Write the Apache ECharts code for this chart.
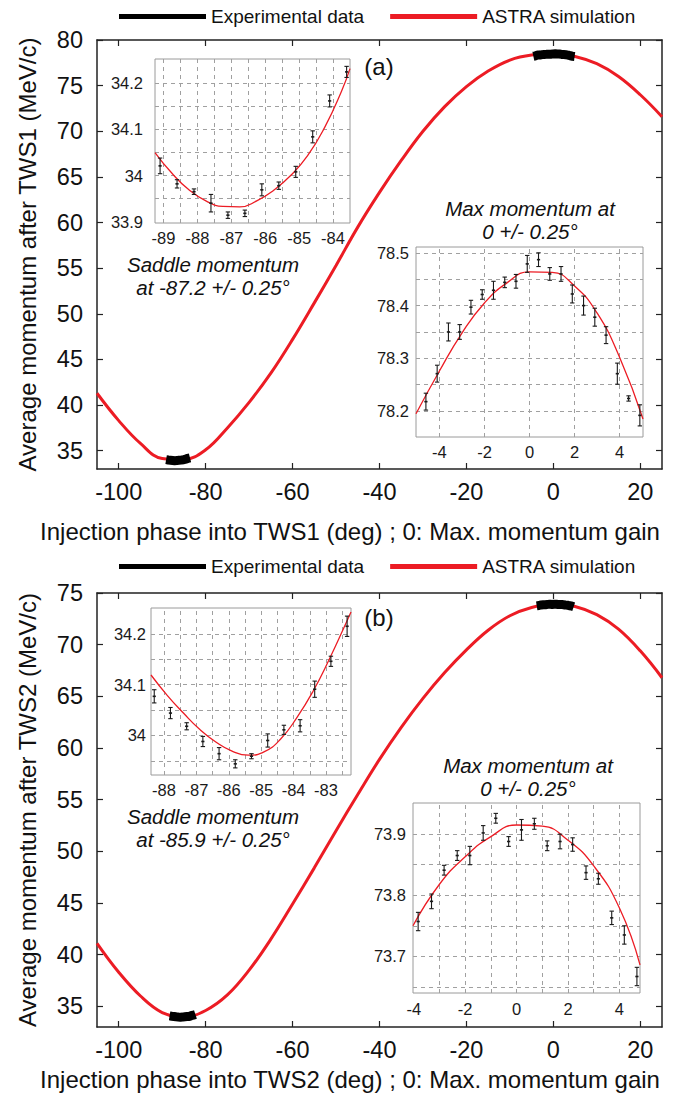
<!DOCTYPE html>
<html><head><meta charset="utf-8">
<script src="https://cdn.jsdelivr.net/npm/echarts@6/dist/echarts.min.js"></script>
<style>html,body{margin:0;padding:0;background:#fff}#c{width:680px;height:1097px}</style>
</head><body><div id="c"></div>
<script>
const FONT = '"Liberation Sans", Arial, sans-serif';
const RED = '#ec1c24';

// ---- main axes tick labels ----
const mainXTicks = [-100, -80, -60, -40, -20, 0, 20];
const mainYTicksA = [35, 40, 45, 50, 55, 60, 65, 70, 75, 80];
const mainYTicksB = [35, 40, 45, 50, 55, 60, 65, 70, 75];

// ---- ASTRA simulation, panel (a) ----
const simPhaseA = [-105,-100,-95,-90,-85,-80,-75,-70,-65,-60,-55,-50,-45,-40,-35,-30,-25,-20,-15,-10,-5,0,5,10,15,20,25];
const simMomA   = [41.3,38.3,35.8,34.15,34.05,35.1,37.5,40.3,43.5,47.2,51.2,55.3,59.5,63.3,66.8,70.0,72.7,74.9,76.6,77.8,78.35,78.47,78.2,77.4,76.0,74.0,71.6];
// ---- ASTRA simulation, panel (b) ----
const simPhaseB = [-105,-100,-95,-90,-85,-80,-75,-70,-65,-60,-55,-50,-45,-40,-35,-30,-25,-20,-15,-10,-5,0,5,10,15,20,25];
const simMomB   = [41.1,38.3,36.0,34.4,33.98,34.6,36.1,38.5,41.5,44.9,48.4,52.0,55.5,58.9,62.0,64.8,67.3,69.5,71.4,72.8,73.6,73.91,73.7,72.9,71.5,69.4,66.8];

// ---- inset (a) saddle ----
const a1XTicks = [-89, -88, -87, -86, -85, -84];
const a1YTicks = [33.9, 34, 34.1, 34.2];
const a1GridX = [-89, -88.5, -88, -87.5, -87, -86.5, -86, -85.5, -85, -84.5, -84];
const a1GridY = [33.95, 34, 34.05, 34.1, 34.15, 34.2];
const a1Phase = [-89.1,-88.6,-88.1,-87.6,-87.1,-86.6,-86.1,-85.6,-85.1,-84.6,-84.1,-83.6];
const a1Mom   = [34.021,33.982,33.965,33.940,33.914,33.918,33.969,33.978,34.008,34.084,34.162,34.225];
const a1Err   = [0.017,0.009,0.006,0.019,0.007,0.007,0.013,0.008,0.012,0.013,0.013,0.012];
const a1FitPhase = [-89.25,-88.75,-88.25,-87.75,-87.25,-86.75,-86.25,-85.75,-85.25,-84.75,-84.25,-83.75,-83.5];
const a1Fit      = [34.05,34.005,33.969,33.945,33.933,33.932,33.945,33.968,34.0,34.043,34.104,34.183,34.232];

// ---- inset (a) max ----
const a2XTicks = [-4, -2, 0, 2, 4];
const a2YTicks = [78.2, 78.3, 78.4, 78.5];
const a2GridX = [-4, -2, 0, 2, 4];
const a2GridY = [78.2, 78.25, 78.3, 78.35, 78.4, 78.45, 78.5];
const a2Phase = [-4.6,-4.1,-3.6,-3.1,-2.6,-2.1,-1.6,-1.1,-0.6,-0.1,0.4,0.9,1.4,1.9,2.4,2.9,3.4,3.9,4.4,4.9];
const a2Mom   = [78.218,78.271,78.35,78.35,78.397,78.421,78.429,78.444,78.446,78.479,78.487,78.46,78.46,78.422,78.4,78.378,78.344,78.271,78.224,78.192];
const a2Err   = [0.016,0.016,0.017,0.014,0.013,0.009,0.017,0.01,0.013,0.016,0.013,0.012,0.014,0.017,0.018,0.017,0.016,0.02,0.005,0.02];
const a2FitPhase = [-5.04,-4,-3,-2,-1,0,1,2,3,4,5.04];
const a2Fit      = [78.195,78.276,78.348,78.405,78.443,78.464,78.463,78.437,78.386,78.302,78.185];

// ---- inset (b) saddle ----
const b1XTicks = [-88, -87, -86, -85, -84, -83];
const b1YTicks = [34, 34.1, 34.2];
const b1GridX = [-88, -87.5, -87, -86.5, -86, -85.5, -85, -84.5, -84, -83.5, -83, -82.5];
const b1GridY = [33.95, 34, 34.05, 34.1, 34.15, 34.2];
const b1Phase = [-88.3,-87.8,-87.3,-86.8,-86.3,-85.8,-85.3,-84.8,-84.3,-83.8,-83.35,-82.85,-82.35];
const b1Mom   = [34.077,34.044,34.018,33.988,33.964,33.944,33.959,33.99,34.011,34.019,34.091,34.146,34.215];
const b1Err   = [0.013,0.011,0.007,0.01,0.012,0.008,0.005,0.013,0.009,0.012,0.016,0.01,0.02];
const b1FitPhase = [-88.4,-87.9,-87.4,-86.9,-86.4,-85.9,-85.4,-84.9,-84.4,-83.9,-83.4,-82.9,-82.4,-82.23];
const b1Fit      = [34.119,34.079,34.044,34.012,33.987,33.969,33.961,33.968,33.993,34.035,34.087,34.150,34.219,34.243];

// ---- inset (b) max ----
const b2XTicks = [-4, -2, 0, 2, 4];
const b2YTicks = [73.7, 73.8, 73.9];
const b2GridX = [-3, -2, -1, 0, 1, 2, 3, 4];
const b2GridY = [73.65, 73.7, 73.75, 73.8, 73.85, 73.9];
const b2Phase = [-3.83,-3.31,-2.82,-2.31,-1.82,-1.3,-0.81,-0.31,0.19,0.69,1.19,1.69,2.18,2.7,3.18,3.7,4.19,4.68];
const b2Mom   = [73.757,73.79,73.841,73.865,73.865,73.902,73.926,73.888,73.907,73.917,73.881,73.888,73.883,73.837,73.827,73.763,73.735,73.667];
const b2Err   = [0.015,0.012,0.008,0.008,0.015,0.012,0.008,0.008,0.017,0.009,0.008,0.012,0.011,0.011,0.009,0.011,0.015,0.015];
const b2FitPhase = [-4.03,-3,-2,-1,0,1,2,3,4,4.8];
const b2Fit      = [73.75,73.818,73.863,73.896,73.915,73.913,73.89,73.848,73.779,73.686];

// ---------- helpers ----------
const pairs = (xs, ys) => xs.map((x, i) => [x, ys[i]]);
const triples = (xs, ys, es) => xs.map((x, i) => [x, ys[i], es[i]]);

function errBar(params, api) {
  const x = api.value(0), y = api.value(1), e = api.value(2);
  const p1 = api.coord([x, y + e]), p2 = api.coord([x, y - e]), c = api.coord([x, y]);
  const w = 2.2, st = { stroke: '#1a1a1a', lineWidth: 1.1 };
  return { type: 'group', children: [
    { type: 'line', shape: { x1: p1[0], y1: p1[1], x2: p2[0], y2: p2[1] }, style: st },
    { type: 'line', shape: { x1: p1[0] - w, y1: p1[1], x2: p1[0] + w, y2: p1[1] }, style: st },
    { type: 'line', shape: { x1: p2[0] - w, y1: p2[1], x2: p2[0] + w, y2: p2[1] }, style: st },
    { type: 'line', shape: { x1: c[0] - 1.6, y1: c[1], x2: c[0] + 1.6, y2: c[1] }, style: { stroke: '#1a1a1a', lineWidth: 1.6 } }
  ]};
}

const AX = '#222';
function mainX(grid, min, max, top) {
  return {
    type: 'value', gridIndex: grid, min, max, position: top ? 'top' : 'bottom',
    axisLine: { show: true, onZero: false, lineStyle: { color: AX, width: 1.5 } },
    axisTick: { show: true, inside: true, length: 6, customValues: mainXTicks, lineStyle: { color: AX, width: 1.2 } },
    axisLabel: top ? { show: false } : { customValues: mainXTicks, fontSize: 23.5, margin: 11, color: '#111', fontFamily: FONT },
    splitLine: { show: false }
  };
}
function mainY(grid, min, max, ticks, name, right) {
  return {
    type: 'value', gridIndex: grid, min, max, position: right ? 'right' : 'left',
    axisLine: { show: true, onZero: false, lineStyle: { color: AX, width: 1.5 } },
    axisTick: { show: true, inside: true, length: 6, customValues: ticks, lineStyle: { color: AX, width: 1.2 } },
    axisLabel: right ? { show: false } : { customValues: ticks, fontSize: 23.5, margin: 14, color: '#111', fontFamily: FONT },
    splitLine: { show: false },
    name: right ? '' : name, nameLocation: 'middle', nameGap: 58,
    nameTextStyle: { fontSize: 24, color: '#111', fontFamily: FONT }
  };
}
function insetAx(grid, min, max, ticks, margin) {
  return {
    type: 'value', gridIndex: grid, min, max,
    axisLine: { show: false }, axisTick: { show: false }, splitLine: { show: false },
    axisLabel: { customValues: ticks, fontSize: 16.5, margin, color: '#1a1a1a', fontFamily: FONT }
  };
}
function gridLines(xs, ys) {
  return {
    silent: true, symbol: ['none', 'none'], label: { show: false }, animation: false,
    lineStyle: { type: [4, 4], color: '#a0a0a0', width: 1 }, emphasis: { disabled: true },
    data: [...xs.map(v => ({ xAxis: v })), ...ys.map(v => ({ yAxis: v }))]
  };
}
function simSeries(xi, xs, ys) {
  return { type: 'line', name: 'ASTRA simulation', xAxisIndex: xi, yAxisIndex: xi, data: pairs(xs, ys), smooth: 0.4,
    symbol: 'none', color: RED, lineStyle: { color: RED, width: 3 }, z: 2, animation: false };
}
function expMain(xi, xs, ys) {
  return { type: 'line', name: 'Experimental data', xAxisIndex: xi, yAxisIndex: xi, data: pairs(xs, ys),
    symbol: 'none', color: '#000', lineStyle: { color: '#000', width: 9 }, z: 4, animation: false };
}
function fitSeries(xi, xs, ys, gx, gy) {
  return { type: 'line', xAxisIndex: xi, yAxisIndex: xi, data: pairs(xs, ys), smooth: 0.5, symbol: 'none',
    lineStyle: { color: RED, width: 1.3 }, z: 5, animation: false, markLine: gridLines(gx, gy) };
}
function errSeries(xi, xs, ys, es) {
  return { type: 'custom', xAxisIndex: xi, yAxisIndex: xi, data: triples(xs, ys, es), renderItem: errBar, z: 6, animation: false };
}
const insetGrid = (left, top, width, height) => ({ left, top, width, height, show: true, borderColor: '#9a9a9a', borderWidth: 1, backgroundColor: '#fff' });

const legendBase = {
  data: ['Experimental data', 'ASTRA simulation'], left: 119, padding: 0, icon: 'rect', itemWidth: 87, itemHeight: 5, itemGap: 26,
  selectedMode: false, textStyle: { fontSize: 19, color: '#111', fontFamily: FONT }
};

function txt(x, y, text, size, italic) {
  return { type: 'text', x, y, silent: true,
    style: { text, fill: '#111', font: (italic ? 'italic ' : '') + size + 'px ' + FONT, align: 'center', verticalAlign: 'middle' } };
}

const option = {
  animation: false,
  backgroundColor: '#fff',
  legend: [ Object.assign({ top: 7 }, legendBase), Object.assign({ top: 557 }, legendBase) ],
  grid: [
    { left: 97, top: 40, width: 565, height: 429, show: false },
    insetGrid(155, 59, 195, 164),
    insetGrid(416, 247, 227, 190),
    { left: 97, top: 593, width: 565, height: 434, show: false },
    insetGrid(151, 608, 200, 167),
    insetGrid(413, 803, 227, 190)
  ],
  xAxis: [
    mainX(0, -105, 25, false),
    insetAx(1, -89.25, -83.5, a1XTicks, 6),
    insetAx(2, -5.04, 5.04, a2XTicks, 6),
    mainX(3, -105, 25, false),
    insetAx(4, -88.4, -82.23, b1XTicks, 6),
    insetAx(5, -4.03, 4.8, b2XTicks, 7),
    mainX(0, -105, 25, true),
    mainX(3, -105, 25, true)
  ],
  yAxis: [
    mainY(0, 33, 80, mainYTicksA, 'Average momentum after TWS1 (MeV/c)', false),
    insetAx(1, 33.897, 34.253, a1YTicks, 12),
    insetAx(2, 78.151, 78.511, a2YTicks, 7),
    mainY(3, 33, 75, mainYTicksB, 'Average momentum after TWS2 (MeV/c)', false),
    insetAx(4, 33.922, 34.251, b1YTicks, 5),
    insetAx(5, 73.64, 73.951, b2YTicks, 7),
    mainY(0, 33, 80, mainYTicksA, '', true),
    mainY(3, 33, 75, mainYTicksB, '', true)
  ],
  series: [
    simSeries(0, simPhaseA, simMomA),
    expMain(0, a1Phase, a1Mom),
    expMain(0, a2Phase, a2Mom),
    fitSeries(1, a1FitPhase, a1Fit, a1GridX, a1GridY),
    errSeries(1, a1Phase, a1Mom, a1Err),
    fitSeries(2, a2FitPhase, a2Fit, a2GridX, a2GridY),
    errSeries(2, a2Phase, a2Mom, a2Err),
    simSeries(3, simPhaseB, simMomB),
    expMain(3, b1Phase, b1Mom),
    expMain(3, b2Phase, b2Mom),
    fitSeries(4, b1FitPhase, b1Fit, b1GridX, b1GridY),
    errSeries(4, b1Phase, b1Mom, b1Err),
    fitSeries(5, b2FitPhase, b2Fit, b2GridX, b2GridY),
    errSeries(5, b2Phase, b2Mom, b2Err)
  ],
  graphic: [
    txt(350, 531, 'Injection phase into TWS1 (deg) ; 0: Max. momentum gain', 24, false),
    txt(350, 1079, 'Injection phase into TWS2 (deg) ; 0: Max. momentum gain', 24, false),
    txt(379, 66, '(a)', 24, false),
    txt(213, 264, 'Saddle momentum', 20.5, true),
    txt(213, 287, 'at -87.2 +/- 0.25°', 20.5, true),
    txt(530, 208, 'Max momentum at', 20.5, true),
    txt(530, 231, '0 +/- 0.25°', 20.5, true),
    txt(379, 617, '(b)', 24, false),
    txt(213, 816, 'Saddle momentum', 20.5, true),
    txt(213, 839, 'at -85.9 +/- 0.25°', 20.5, true),
    txt(528, 765, 'Max momentum at', 20.5, true),
    txt(528, 788, '0 +/- 0.25°', 20.5, true)
  ]
};

const chart = echarts.init(document.getElementById('c'), null, { renderer: 'svg', width: 680, height: 1097 });
chart.setOption(option);
</script></body></html>
